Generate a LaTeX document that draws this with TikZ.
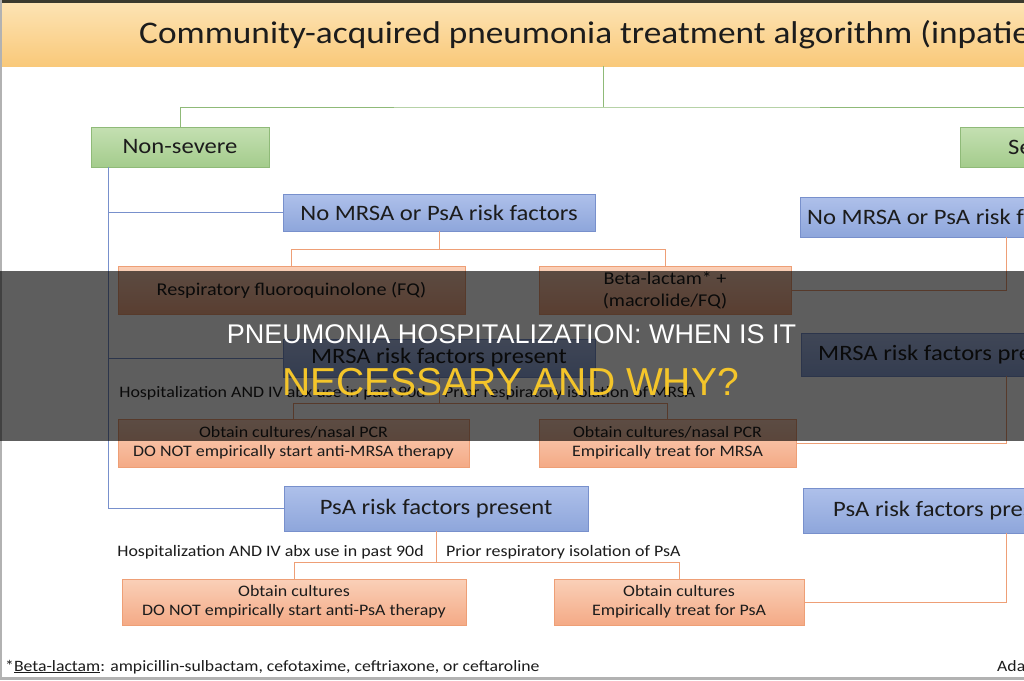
\documentclass[tikz,border=0pt]{standalone}
\usepackage{fontspec}
\setmainfont{Carlito}[FakeStretch=1.12]
\newfontfamily\headfont{Liberation Sans}
\usetikzlibrary{positioning,shadows}
\definecolor{BandTop}{HTML}{FDE3B3}
\definecolor{BandBot}{HTML}{F9C97A}
\definecolor{LeafTop}{HTML}{C4E0B2}
\definecolor{LeafBot}{HTML}{A4CC8C}
\definecolor{LeafLine}{HTML}{8FBA78}
\definecolor{SkyTop}{HTML}{AEC0EA}
\definecolor{SkyBot}{HTML}{8EA6DB}
\definecolor{SkyLine}{HTML}{7890CC}
\definecolor{PeachTop}{HTML}{FAD0B8}
\definecolor{PeachBot}{HTML}{F4AA86}
\definecolor{PeachLine}{HTML}{EE9F76}
\definecolor{InkGray}{HTML}{1C1C1C}
\definecolor{FrameDark}{HTML}{3B3A2E}
\definecolor{Gold}{HTML}{F4C52A}

\begin{document}
\begin{tikzpicture}[
  x=1pt, y=-1pt,
  softshadow/.style={drop shadow={shadow xshift=1.2pt, shadow yshift=-1.2pt, opacity=0.2}},
  titleband/.style={top color=BandTop, bottom color=BandBot, minimum width=1024pt, minimum height=63pt, inner sep=0pt},
  sevbox/.style={draw=LeafLine, top color=LeafTop, bottom color=LeafBot, minimum height=40pt, inner sep=0pt, text=InkGray, font=\fontsize{22}{26}\selectfont, softshadow},
  riskbox/.style={draw=SkyLine, top color=SkyTop, bottom color=SkyBot, inner sep=0pt, text=InkGray, font=\fontsize{22}{26}\selectfont, softshadow},
  txbox/.style={draw=PeachLine, top color=PeachTop, bottom color=PeachBot, inner sep=0pt, align=center, text=InkGray, font=\fontsize{16}{19}\selectfont, softshadow},
  cond/.style={inner sep=0pt, text=InkGray, font=\fontsize{16}{19}\selectfont},
  greenlink/.style={draw=LeafLine, line width=0.9pt},
  bluelink/.style={draw=SkyLine, line width=1pt},
  peachlink/.style={draw=PeachLine, line width=0.9pt},
  veil/.style={fill=black, fill opacity=0.63, minimum width=1024pt, minimum height=170pt, inner sep=0pt}
]
\useasboundingbox (0,0) rectangle (1024,680);
\clip (0,0) rectangle (1024,680);
\fill[white] (0,0) rectangle (1024,680);

% heading
\node[titleband] (title) at (512,34.5) {};
\node[anchor=base west, inner sep=0pt, text=InkGray, font=\fontsize{31.5}{36}\selectfont] (heading) at (139,43) {Community-acquired pneumonia treatment algorithm (inpatient)};

% severity split
\node[sevbox, minimum width=178pt] (nonsev) at (180,147) {Non-severe};
\node[sevbox, anchor=west, inner xsep=48pt] (sev) at (960,147) {Severe};
\coordinate (split) at (603,107);
\draw[greenlink] (title.south -| split) -- (split);
\draw[greenlink] (nonsev.north) |- (split) -| (sev.north);

% risk groups, non-severe
\node[riskbox, minimum width=312pt, minimum height=37pt] (nomrsa) at (439,212.5) {No MRSA or PsA risk factors};
\node[riskbox, minimum width=312pt, minimum height=38pt] (mrsa) at (439,358) {MRSA risk factors present};
\node[riskbox, minimum width=304pt, minimum height=45pt] (psa) at (436,508.5) {PsA risk factors present};
\coordinate (trunk) at (108,0);
\draw[bluelink] (nonsev.south -| trunk) |- (psa.west);
\draw[bluelink] (trunk |- nomrsa.west) -- (nomrsa.west);
\draw[bluelink] (trunk |- mrsa.west) -- (mrsa.west);

% no risk factors
\node[txbox, minimum width=347pt, minimum height=48pt, font=\fontsize{18}{22}\selectfont] (fq) at (291.5,290) {Respiratory fluoroquinolone (FQ)};
\node[txbox, minimum width=252pt, minimum height=48pt, font=\fontsize{18}{22}\selectfont] (beta) at (665,290) {Beta-lactam* +\\(macrolide/FQ)};
\draw[peachlink] (nomrsa.south) -- ++(0,18) coordinate (nmjoin);
\draw[peachlink] (fq.north) |- (nmjoin) -| (beta.north);

% MRSA
\node[cond, anchor=base east] (mrsacase1) at (426,397) {Hospitalization AND IV abx use in past 90d};
\node[cond, anchor=base west] (mrsacase2) at (444,397) {Prior respiratory isolation of MRSA};
\node[txbox, minimum width=351pt, minimum height=48pt] (mrsano) at (293.5,443) {Obtain cultures/nasal PCR\\DO NOT empirically start anti-MRSA therapy};
\node[txbox, minimum width=257pt, minimum height=48pt] (mrsayes) at (667.5,443) {Obtain cultures/nasal PCR\\Empirically treat for MRSA};
\draw[peachlink] (mrsa.south) -- ++(0,26) coordinate (mrjoin);
\draw[peachlink] (mrsano.north) |- (mrjoin) -| (mrsayes.north);

% PsA
\node[cond, anchor=base east] (psacase1) at (424,556) {Hospitalization AND IV abx use in past 90d};
\node[cond, anchor=base west] (psacase2) at (446,556) {Prior respiratory isolation of PsA};
\node[txbox, minimum width=344pt, minimum height=46pt] (psano) at (294,602) {Obtain cultures\\DO NOT empirically start anti-PsA therapy};
\node[txbox, minimum width=250pt, minimum height=46pt] (psayes) at (679,602) {Obtain cultures\\Empirically treat for PsA};
\draw[peachlink] (psa.south) -- ++(0,31) coordinate (psjoin);
\draw[peachlink] (psano.north) |- (psjoin) -| (psayes.north);

% severe column
\coordinate (rtrunk) at (1006,0);
\node[riskbox, anchor=west, inner xsep=7pt, minimum height=40pt] (rnomrsa) at (800,217) {No MRSA or PsA risk factors};
\node[riskbox, anchor=west, inner xsep=17pt, minimum height=43pt] (rmrsa) at (801,354.5) {MRSA risk factors present};
\node[riskbox, anchor=west, inner xsep=30pt, minimum height=45pt] (rpsa) at (803,510.5) {PsA risk factors present};
\draw[peachlink] (rnomrsa.south -| rtrunk) |- (beta.east);
\draw[peachlink] (rmrsa.south -| rtrunk) |- (mrsayes.east);
\draw[peachlink] (rpsa.south -| rtrunk) |- (psayes.east);

% footnote
\node[anchor=base west, inner sep=0pt, text=InkGray, font=\fontsize{15.8}{18}\selectfont] (note) at (5,671) {*\underline{Beta-lactam}: ampicillin-sulbactam, cefotaxime, ceftriaxone, or ceftaroline};
\node[anchor=base west, inner sep=0pt, text=InkGray, font=\fontsize{15.8}{18}\selectfont] (credit) at (997,671) {Adapted};

% frame edges
\fill[FrameDark] (0,0) rectangle (1024,3);
\fill[gray!60] (0,677) rectangle (1024,680);
\draw[gray!60, line width=1.5pt] (0.75,0) -- (0.75,680);

% banner
\node[veil] (band) at (512,356) {};
\node[inner sep=0pt, text=white, font=\headfont\fontsize{27}{30}\selectfont] (headline) at (511.5,334) {PNEUMONIA HOSPITALIZATION: WHEN IS IT};
\node[inner sep=0pt, text=Gold, font=\headfont\fontsize{39}{42}\selectfont] (subline) at (510.5,382.5) {NECESSARY AND WHY?};
\end{tikzpicture}
\end{document}
